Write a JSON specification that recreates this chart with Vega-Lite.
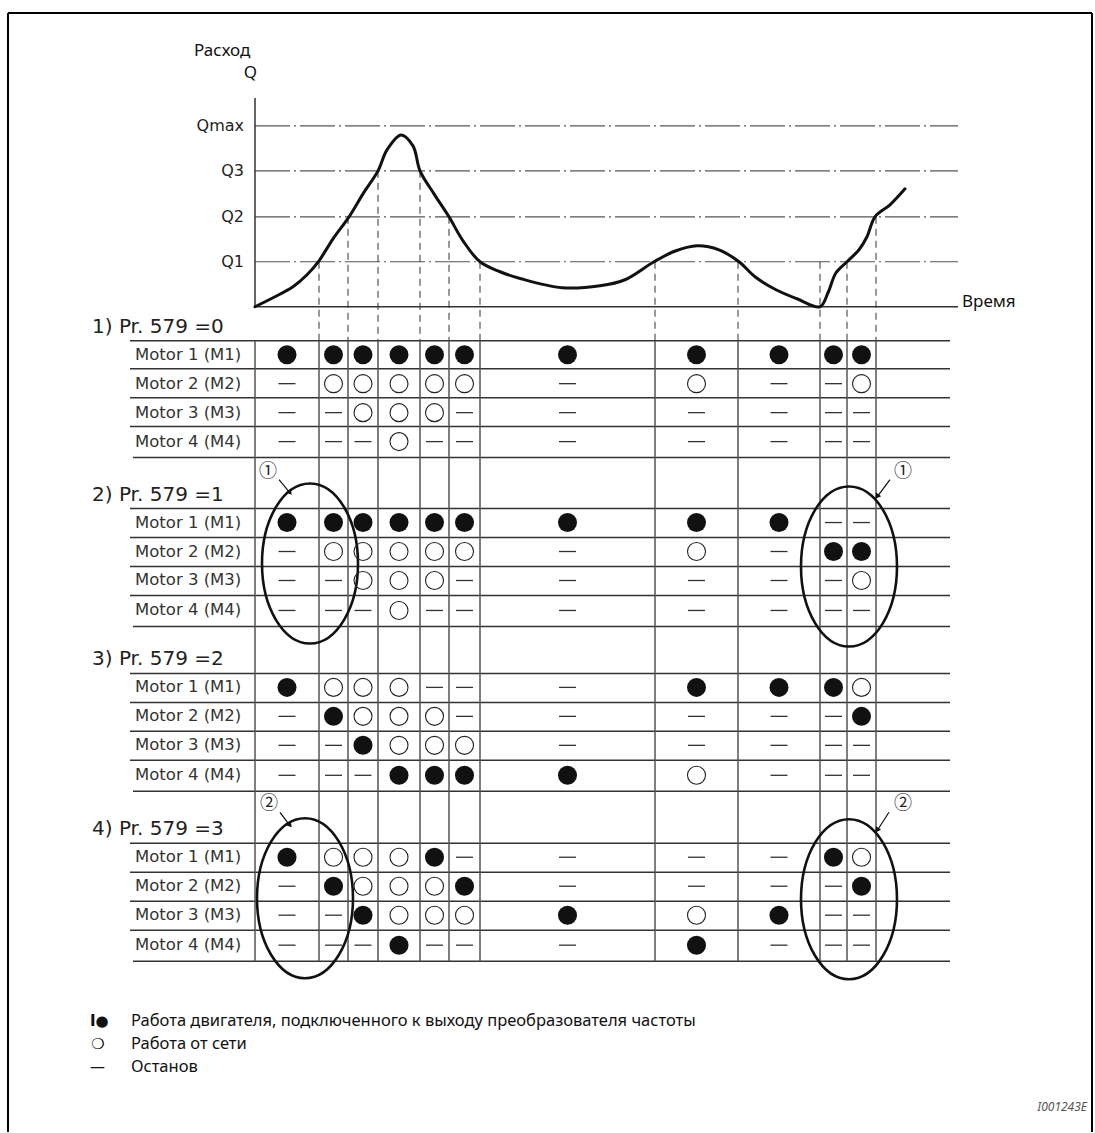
{
  "$schema": "https://vega.github.io/schema/vega-lite/v6.json",
  "width": 1095,
  "height": 1133,
  "autosize": {"type": "fit", "contains": "padding"},
  "padding": 0,
  "background": "white",
  "config": {"view": {"stroke": null}},
  "datasets": {
    "segs": [
      {"k": "frame", "t": 8, "v": 13, "t2": 1092, "v2": 13},
      {"k": "frame", "t": 8, "v": 13, "t2": 8, "v2": 1133},
      {"k": "frame", "t": 1092, "v": 13, "t2": 1092, "v2": 1133},
      {"k": "q", "t": 255, "v": 126, "t2": 958, "v2": 126},
      {"k": "q", "t": 255, "v": 171, "t2": 958, "v2": 171},
      {"k": "q", "t": 255, "v": 217, "t2": 958, "v2": 217},
      {"k": "q", "t": 255, "v": 262, "t2": 958, "v2": 262},
      {"k": "axis", "t": 255, "v": 98, "t2": 255, "v2": 307},
      {"k": "axis", "t": 255, "v": 307, "t2": 958, "v2": 307},
      {"k": "dash", "t": 319, "v": 262, "t2": 319, "v2": 341},
      {"k": "dash", "t": 348, "v": 217, "t2": 348, "v2": 341},
      {"k": "dash", "t": 378, "v": 171, "t2": 378, "v2": 341},
      {"k": "dash", "t": 420, "v": 171, "t2": 420, "v2": 341},
      {"k": "dash", "t": 449, "v": 217, "t2": 449, "v2": 341},
      {"k": "dash", "t": 480, "v": 262, "t2": 480, "v2": 341},
      {"k": "dash", "t": 655, "v": 262, "t2": 655, "v2": 341},
      {"k": "dash", "t": 738, "v": 262, "t2": 738, "v2": 341},
      {"k": "dash", "t": 820, "v": 262, "t2": 820, "v2": 341},
      {"k": "dash", "t": 847, "v": 262, "t2": 847, "v2": 341},
      {"k": "dash", "t": 876, "v": 217, "t2": 876, "v2": 341},
      {"k": "h", "t": 130, "v": 341, "t2": 950, "v2": 341},
      {"k": "h", "t": 130, "v": 369, "t2": 950, "v2": 369},
      {"k": "h", "t": 130, "v": 398, "t2": 950, "v2": 398},
      {"k": "h", "t": 130, "v": 427, "t2": 950, "v2": 427},
      {"k": "h", "t": 133, "v": 458, "t2": 950, "v2": 458},
      {"k": "h", "t": 130, "v": 509, "t2": 950, "v2": 509},
      {"k": "h", "t": 130, "v": 538, "t2": 950, "v2": 538},
      {"k": "h", "t": 130, "v": 567, "t2": 950, "v2": 567},
      {"k": "h", "t": 130, "v": 596, "t2": 950, "v2": 596},
      {"k": "h", "t": 133, "v": 627, "t2": 950, "v2": 627},
      {"k": "h", "t": 130, "v": 674, "t2": 950, "v2": 674},
      {"k": "h", "t": 130, "v": 703, "t2": 950, "v2": 703},
      {"k": "h", "t": 130, "v": 732, "t2": 950, "v2": 732},
      {"k": "h", "t": 130, "v": 761, "t2": 950, "v2": 761},
      {"k": "h", "t": 133, "v": 792, "t2": 950, "v2": 792},
      {"k": "h", "t": 130, "v": 844, "t2": 950, "v2": 844},
      {"k": "h", "t": 130, "v": 873, "t2": 950, "v2": 873},
      {"k": "h", "t": 130, "v": 902, "t2": 950, "v2": 902},
      {"k": "h", "t": 130, "v": 931, "t2": 950, "v2": 931},
      {"k": "h", "t": 133, "v": 962, "t2": 950, "v2": 962},
      {"k": "vl", "t": 255, "v": 341, "t2": 255, "v2": 962},
      {"k": "vl", "t": 319, "v": 341, "t2": 319, "v2": 962},
      {"k": "vl", "t": 348, "v": 341, "t2": 348, "v2": 962},
      {"k": "vl", "t": 378, "v": 341, "t2": 378, "v2": 962},
      {"k": "vl", "t": 420, "v": 341, "t2": 420, "v2": 962},
      {"k": "vl", "t": 449, "v": 341, "t2": 449, "v2": 962},
      {"k": "vl", "t": 480, "v": 341, "t2": 480, "v2": 962},
      {"k": "vl", "t": 655, "v": 341, "t2": 655, "v2": 962},
      {"k": "vl", "t": 738, "v": 341, "t2": 738, "v2": 962},
      {"k": "vl", "t": 820, "v": 341, "t2": 820, "v2": 962},
      {"k": "vl", "t": 847, "v": 341, "t2": 847, "v2": 962},
      {"k": "vl", "t": 876, "v": 341, "t2": 876, "v2": 962},
      {"k": "arrow", "t": 279, "v": 480, "t2": 289, "v2": 492},
      {"k": "arrow", "t": 890, "v": 480, "t2": 878, "v2": 496},
      {"k": "arrow", "t": 280, "v": 813, "t2": 289, "v2": 825},
      {"k": "arrow", "t": 889, "v": 813, "t2": 878, "v2": 830}
    ],
    "heads": [
      {"t": 290, "v": 493, "ang": 140},
      {"t": 877, "v": 497, "ang": 217},
      {"t": 290, "v": 826, "ang": 140},
      {"t": 877, "v": 831, "ang": 214}
    ],
    "ellipses": [
      {"t": 310, "v": 564},
      {"t": 849, "v": 567},
      {"t": 305, "v": 899},
      {"t": 849, "v": 900}
    ],
    "curve": [
      {"t": 255, "v": 307}, {"t": 273, "v": 298}, {"t": 293, "v": 287}, {"t": 307, "v": 275},
      {"t": 319, "v": 261}, {"t": 333, "v": 239}, {"t": 349, "v": 217}, {"t": 363, "v": 194},
      {"t": 378, "v": 171}, {"t": 387, "v": 150}, {"t": 401, "v": 135}, {"t": 413, "v": 146},
      {"t": 420, "v": 171}, {"t": 434, "v": 194}, {"t": 449, "v": 217}, {"t": 463, "v": 241},
      {"t": 480, "v": 262}, {"t": 500, "v": 272}, {"t": 521, "v": 279}, {"t": 562, "v": 288},
      {"t": 600, "v": 286}, {"t": 625, "v": 280}, {"t": 654, "v": 262}, {"t": 676, "v": 251},
      {"t": 697, "v": 246}, {"t": 719, "v": 250}, {"t": 739, "v": 262}, {"t": 755, "v": 277},
      {"t": 776, "v": 290}, {"t": 797, "v": 299}, {"t": 820, "v": 307}, {"t": 828, "v": 293},
      {"t": 836, "v": 273}, {"t": 847, "v": 262}, {"t": 859, "v": 250}, {"t": 867, "v": 237},
      {"t": 875, "v": 217}, {"t": 890, "v": 205}, {"t": 905, "v": 189}
    ],
    "cols": [
      {"col": "A", "t": 287}, {"col": "B", "t": 333.5}, {"col": "C", "t": 363},
      {"col": "D", "t": 399}, {"col": "E", "t": 434.5}, {"col": "F", "t": 464.5},
      {"col": "G", "t": 567.5}, {"col": "H", "t": 696.5}, {"col": "I", "t": 779},
      {"col": "J", "t": 833.5}, {"col": "K", "t": 861.5}
    ],
    "rows": [
      {"row": "1M1", "v": 355, "label": "Motor 1 (M1)"}, {"row": "1M2", "v": 384, "label": "Motor 2 (M2)"},
      {"row": "1M3", "v": 413, "label": "Motor 3 (M3)"}, {"row": "1M4", "v": 442, "label": "Motor 4 (M4)"},
      {"row": "2M1", "v": 523, "label": "Motor 1 (M1)"}, {"row": "2M2", "v": 552, "label": "Motor 2 (M2)"},
      {"row": "2M3", "v": 581, "label": "Motor 3 (M3)"}, {"row": "2M4", "v": 611, "label": "Motor 4 (M4)"},
      {"row": "3M1", "v": 688, "label": "Motor 1 (M1)"}, {"row": "3M2", "v": 717, "label": "Motor 2 (M2)"},
      {"row": "3M3", "v": 746, "label": "Motor 3 (M3)"}, {"row": "3M4", "v": 776, "label": "Motor 4 (M4)"},
      {"row": "4M1", "v": 858, "label": "Motor 1 (M1)"}, {"row": "4M2", "v": 887, "label": "Motor 2 (M2)"},
      {"row": "4M3", "v": 916, "label": "Motor 3 (M3)"}, {"row": "4M4", "v": 946, "label": "Motor 4 (M4)"}
    ],
    "cells": [
      {"r": "1M1", "c": "A", "s": "F"}, {"r": "1M1", "c": "B", "s": "F"}, {"r": "1M1", "c": "C", "s": "F"}, {"r": "1M1", "c": "D", "s": "F"}, {"r": "1M1", "c": "E", "s": "F"}, {"r": "1M1", "c": "F", "s": "F"}, {"r": "1M1", "c": "G", "s": "F"}, {"r": "1M1", "c": "H", "s": "F"}, {"r": "1M1", "c": "I", "s": "F"}, {"r": "1M1", "c": "J", "s": "F"}, {"r": "1M1", "c": "K", "s": "F"},
      {"r": "1M2", "c": "A", "s": "S"}, {"r": "1M2", "c": "B", "s": "O"}, {"r": "1M2", "c": "C", "s": "O"}, {"r": "1M2", "c": "D", "s": "O"}, {"r": "1M2", "c": "E", "s": "O"}, {"r": "1M2", "c": "F", "s": "O"}, {"r": "1M2", "c": "G", "s": "S"}, {"r": "1M2", "c": "H", "s": "O"}, {"r": "1M2", "c": "I", "s": "S"}, {"r": "1M2", "c": "J", "s": "S"}, {"r": "1M2", "c": "K", "s": "O"},
      {"r": "1M3", "c": "A", "s": "S"}, {"r": "1M3", "c": "B", "s": "S"}, {"r": "1M3", "c": "C", "s": "O"}, {"r": "1M3", "c": "D", "s": "O"}, {"r": "1M3", "c": "E", "s": "O"}, {"r": "1M3", "c": "F", "s": "S"}, {"r": "1M3", "c": "G", "s": "S"}, {"r": "1M3", "c": "H", "s": "S"}, {"r": "1M3", "c": "I", "s": "S"}, {"r": "1M3", "c": "J", "s": "S"}, {"r": "1M3", "c": "K", "s": "S"},
      {"r": "1M4", "c": "A", "s": "S"}, {"r": "1M4", "c": "B", "s": "S"}, {"r": "1M4", "c": "C", "s": "S"}, {"r": "1M4", "c": "D", "s": "O"}, {"r": "1M4", "c": "E", "s": "S"}, {"r": "1M4", "c": "F", "s": "S"}, {"r": "1M4", "c": "G", "s": "S"}, {"r": "1M4", "c": "H", "s": "S"}, {"r": "1M4", "c": "I", "s": "S"}, {"r": "1M4", "c": "J", "s": "S"}, {"r": "1M4", "c": "K", "s": "S"},
      {"r": "2M1", "c": "A", "s": "F"}, {"r": "2M1", "c": "B", "s": "F"}, {"r": "2M1", "c": "C", "s": "F"}, {"r": "2M1", "c": "D", "s": "F"}, {"r": "2M1", "c": "E", "s": "F"}, {"r": "2M1", "c": "F", "s": "F"}, {"r": "2M1", "c": "G", "s": "F"}, {"r": "2M1", "c": "H", "s": "F"}, {"r": "2M1", "c": "I", "s": "F"}, {"r": "2M1", "c": "J", "s": "S"}, {"r": "2M1", "c": "K", "s": "S"},
      {"r": "2M2", "c": "A", "s": "S"}, {"r": "2M2", "c": "B", "s": "O"}, {"r": "2M2", "c": "C", "s": "O"}, {"r": "2M2", "c": "D", "s": "O"}, {"r": "2M2", "c": "E", "s": "O"}, {"r": "2M2", "c": "F", "s": "O"}, {"r": "2M2", "c": "G", "s": "S"}, {"r": "2M2", "c": "H", "s": "O"}, {"r": "2M2", "c": "I", "s": "S"}, {"r": "2M2", "c": "J", "s": "F"}, {"r": "2M2", "c": "K", "s": "F"},
      {"r": "2M3", "c": "A", "s": "S"}, {"r": "2M3", "c": "B", "s": "S"}, {"r": "2M3", "c": "C", "s": "O"}, {"r": "2M3", "c": "D", "s": "O"}, {"r": "2M3", "c": "E", "s": "O"}, {"r": "2M3", "c": "F", "s": "S"}, {"r": "2M3", "c": "G", "s": "S"}, {"r": "2M3", "c": "H", "s": "S"}, {"r": "2M3", "c": "I", "s": "S"}, {"r": "2M3", "c": "J", "s": "S"}, {"r": "2M3", "c": "K", "s": "O"},
      {"r": "2M4", "c": "A", "s": "S"}, {"r": "2M4", "c": "B", "s": "S"}, {"r": "2M4", "c": "C", "s": "S"}, {"r": "2M4", "c": "D", "s": "O"}, {"r": "2M4", "c": "E", "s": "S"}, {"r": "2M4", "c": "F", "s": "S"}, {"r": "2M4", "c": "G", "s": "S"}, {"r": "2M4", "c": "H", "s": "S"}, {"r": "2M4", "c": "I", "s": "S"}, {"r": "2M4", "c": "J", "s": "S"}, {"r": "2M4", "c": "K", "s": "S"},
      {"r": "3M1", "c": "A", "s": "F"}, {"r": "3M1", "c": "B", "s": "O"}, {"r": "3M1", "c": "C", "s": "O"}, {"r": "3M1", "c": "D", "s": "O"}, {"r": "3M1", "c": "E", "s": "S"}, {"r": "3M1", "c": "F", "s": "S"}, {"r": "3M1", "c": "G", "s": "S"}, {"r": "3M1", "c": "H", "s": "F"}, {"r": "3M1", "c": "I", "s": "F"}, {"r": "3M1", "c": "J", "s": "F"}, {"r": "3M1", "c": "K", "s": "O"},
      {"r": "3M2", "c": "A", "s": "S"}, {"r": "3M2", "c": "B", "s": "F"}, {"r": "3M2", "c": "C", "s": "O"}, {"r": "3M2", "c": "D", "s": "O"}, {"r": "3M2", "c": "E", "s": "O"}, {"r": "3M2", "c": "F", "s": "S"}, {"r": "3M2", "c": "G", "s": "S"}, {"r": "3M2", "c": "H", "s": "S"}, {"r": "3M2", "c": "I", "s": "S"}, {"r": "3M2", "c": "J", "s": "S"}, {"r": "3M2", "c": "K", "s": "F"},
      {"r": "3M3", "c": "A", "s": "S"}, {"r": "3M3", "c": "B", "s": "S"}, {"r": "3M3", "c": "C", "s": "F"}, {"r": "3M3", "c": "D", "s": "O"}, {"r": "3M3", "c": "E", "s": "O"}, {"r": "3M3", "c": "F", "s": "O"}, {"r": "3M3", "c": "G", "s": "S"}, {"r": "3M3", "c": "H", "s": "S"}, {"r": "3M3", "c": "I", "s": "S"}, {"r": "3M3", "c": "J", "s": "S"}, {"r": "3M3", "c": "K", "s": "S"},
      {"r": "3M4", "c": "A", "s": "S"}, {"r": "3M4", "c": "B", "s": "S"}, {"r": "3M4", "c": "C", "s": "S"}, {"r": "3M4", "c": "D", "s": "F"}, {"r": "3M4", "c": "E", "s": "F"}, {"r": "3M4", "c": "F", "s": "F"}, {"r": "3M4", "c": "G", "s": "F"}, {"r": "3M4", "c": "H", "s": "O"}, {"r": "3M4", "c": "I", "s": "S"}, {"r": "3M4", "c": "J", "s": "S"}, {"r": "3M4", "c": "K", "s": "S"},
      {"r": "4M1", "c": "A", "s": "F"}, {"r": "4M1", "c": "B", "s": "O"}, {"r": "4M1", "c": "C", "s": "O"}, {"r": "4M1", "c": "D", "s": "O"}, {"r": "4M1", "c": "E", "s": "F"}, {"r": "4M1", "c": "F", "s": "S"}, {"r": "4M1", "c": "G", "s": "S"}, {"r": "4M1", "c": "H", "s": "S"}, {"r": "4M1", "c": "I", "s": "S"}, {"r": "4M1", "c": "J", "s": "F"}, {"r": "4M1", "c": "K", "s": "O"},
      {"r": "4M2", "c": "A", "s": "S"}, {"r": "4M2", "c": "B", "s": "F"}, {"r": "4M2", "c": "C", "s": "O"}, {"r": "4M2", "c": "D", "s": "O"}, {"r": "4M2", "c": "E", "s": "O"}, {"r": "4M2", "c": "F", "s": "F"}, {"r": "4M2", "c": "G", "s": "S"}, {"r": "4M2", "c": "H", "s": "S"}, {"r": "4M2", "c": "I", "s": "S"}, {"r": "4M2", "c": "J", "s": "S"}, {"r": "4M2", "c": "K", "s": "F"},
      {"r": "4M3", "c": "A", "s": "S"}, {"r": "4M3", "c": "B", "s": "S"}, {"r": "4M3", "c": "C", "s": "F"}, {"r": "4M3", "c": "D", "s": "O"}, {"r": "4M3", "c": "E", "s": "O"}, {"r": "4M3", "c": "F", "s": "O"}, {"r": "4M3", "c": "G", "s": "F"}, {"r": "4M3", "c": "H", "s": "O"}, {"r": "4M3", "c": "I", "s": "F"}, {"r": "4M3", "c": "J", "s": "S"}, {"r": "4M3", "c": "K", "s": "S"},
      {"r": "4M4", "c": "A", "s": "S"}, {"r": "4M4", "c": "B", "s": "S"}, {"r": "4M4", "c": "C", "s": "S"}, {"r": "4M4", "c": "D", "s": "F"}, {"r": "4M4", "c": "E", "s": "S"}, {"r": "4M4", "c": "F", "s": "S"}, {"r": "4M4", "c": "G", "s": "S"}, {"r": "4M4", "c": "H", "s": "F"}, {"r": "4M4", "c": "I", "s": "S"}, {"r": "4M4", "c": "J", "s": "S"}, {"r": "4M4", "c": "K", "s": "S"}
    ],
    "texts": [
      {"k": "head", "t": 92, "v": 327, "txt": "1) Pr. 579 =0"},
      {"k": "head", "t": 92, "v": 495, "txt": "2) Pr. 579 =1"},
      {"k": "head", "t": 92, "v": 660, "txt": "3) Pr. 579 =2"},
      {"k": "head", "t": 92, "v": 830, "txt": "4) Pr. 579 =3"},
      {"k": "q", "t": 244, "v": 126, "txt": "Qmax"},
      {"k": "q", "t": 244, "v": 171, "txt": "Q3"},
      {"k": "q", "t": 244, "v": 217, "txt": "Q2"},
      {"k": "q", "t": 244, "v": 262, "txt": "Q1"},
      {"k": "ttl", "t": 194, "v": 51, "txt": "Расход"},
      {"k": "ttl", "t": 962, "v": 302, "txt": "Время"},
      {"k": "ttlr", "t": 257, "v": 73, "txt": "Q"},
      {"k": "circ", "t": 268, "v": 472, "txt": "①"},
      {"k": "circ", "t": 903, "v": 472, "txt": "①"},
      {"k": "circ", "t": 269, "v": 805, "txt": "②"},
      {"k": "circ", "t": 903, "v": 805, "txt": "②"},
      {"k": "legsymb", "t": 90, "v": 1022, "txt": "I●"},
      {"k": "legsym", "t": 91, "v": 1045, "txt": "❍"},
      {"k": "legsym", "t": 90, "v": 1068, "txt": "—"},
      {"k": "leg", "t": 131, "v": 1022, "txt": "Работа двигателя, подключенного к выходу преобразователя частоты"},
      {"k": "leg", "t": 131, "v": 1045, "txt": "Работа от сети"},
      {"k": "leg", "t": 131, "v": 1068, "txt": "Останов"},
      {"k": "code", "t": 1087, "v": 1108, "txt": "I001243E"}
    ]
  },
  "encoding": {
    "x": {"field": "t", "type": "quantitative", "scale": {"domain": [0, 1095], "nice": false, "zero": false}, "axis": null},
    "y": {"field": "v", "type": "quantitative", "scale": {"domain": [0, 1133], "nice": false, "zero": false, "reverse": true}, "axis": null}
  },
  "layer": [
    {
      "data": {"name": "segs"},
      "transform": [{"filter": "datum.k === 'frame'"}],
      "mark": {"type": "rule", "color": "#000", "strokeWidth": 2},
      "encoding": {"x2": {"field": "t2"}, "y2": {"field": "v2"}}
    },
    {
      "data": {"name": "segs"},
      "transform": [{"filter": "datum.k === 'q'"}],
      "mark": {"type": "rule", "color": "#555", "strokeWidth": 1.2, "strokeDash": [35, 4, 2, 4]},
      "encoding": {"x2": {"field": "t2"}, "y2": {"field": "v2"}}
    },
    {
      "data": {"name": "segs"},
      "transform": [{"filter": "datum.k === 'axis'"}],
      "mark": {"type": "rule", "color": "#333", "strokeWidth": 1.5},
      "encoding": {"x2": {"field": "t2"}, "y2": {"field": "v2"}}
    },
    {
      "data": {"name": "segs"},
      "transform": [{"filter": "datum.k === 'dash'"}],
      "mark": {"type": "rule", "color": "#333", "strokeWidth": 1, "strokeDash": [7, 5]},
      "encoding": {"x2": {"field": "t2"}, "y2": {"field": "v2"}}
    },
    {
      "data": {"name": "segs"},
      "transform": [{"filter": "datum.k === 'h'"}],
      "mark": {"type": "rule", "color": "#333", "strokeWidth": 1.5},
      "encoding": {"x2": {"field": "t2"}, "y2": {"field": "v2"}}
    },
    {
      "data": {"name": "segs"},
      "transform": [{"filter": "datum.k === 'vl'"}],
      "mark": {"type": "rule", "color": "#555", "strokeWidth": 1.5},
      "encoding": {"x2": {"field": "t2"}, "y2": {"field": "v2"}}
    },
    {
      "data": {"name": "curve"},
      "mark": {"type": "line", "color": "#111", "strokeWidth": 3, "interpolate": "catmull-rom", "strokeCap": "round"},
      "encoding": {"order": {"field": "t", "type": "quantitative"}}
    },
    {
      "data": {"name": "ellipses"},
      "mark": {"type": "point", "shape": "M0,-1C0.331,-1,0.6,-0.552,0.6,0C0.6,0.552,0.331,1,0,1C-0.331,1,-0.6,0.552,-0.6,0C-0.6,-0.552,-0.331,-1,0,-1Z", "size": 25600, "filled": false, "color": "#111", "strokeWidth": 2.6, "opacity": 1}
    },
    {
      "data": {"name": "segs"},
      "transform": [{"filter": "datum.k === 'arrow'"}],
      "mark": {"type": "rule", "color": "#111", "strokeWidth": 1.2},
      "encoding": {"x2": {"field": "t2"}, "y2": {"field": "v2"}}
    },
    {
      "data": {"name": "heads"},
      "mark": {"type": "point", "shape": "triangle-up", "size": 40, "filled": true, "color": "#111", "opacity": 1},
      "encoding": {"angle": {"field": "ang", "type": "quantitative", "scale": null}}
    },
    {
      "data": {"name": "cells"},
      "transform": [
        {"lookup": "c", "from": {"data": {"name": "cols"}, "key": "col", "fields": ["t"]}},
        {"lookup": "r", "from": {"data": {"name": "rows"}, "key": "row", "fields": ["v"]}},
        {"filter": "datum.s === 'F'"}
      ],
      "mark": {"type": "point", "shape": "circle", "size": 361, "filled": true, "color": "#111", "opacity": 1}
    },
    {
      "data": {"name": "cells"},
      "transform": [
        {"lookup": "c", "from": {"data": {"name": "cols"}, "key": "col", "fields": ["t"]}},
        {"lookup": "r", "from": {"data": {"name": "rows"}, "key": "row", "fields": ["v"]}},
        {"filter": "datum.s === 'O'"}
      ],
      "mark": {"type": "point", "shape": "circle", "size": 324, "filled": false, "color": "#222", "strokeWidth": 1.1, "opacity": 1}
    },
    {
      "data": {"name": "cells"},
      "transform": [
        {"lookup": "c", "from": {"data": {"name": "cols"}, "key": "col", "fields": ["t"]}},
        {"lookup": "r", "from": {"data": {"name": "rows"}, "key": "row", "fields": ["v"]}},
        {"filter": "datum.s === 'S'"}
      ],
      "mark": {"type": "point", "shape": "stroke", "size": 289, "filled": false, "color": "#333", "strokeWidth": 1.3, "opacity": 1}
    },
    {
      "data": {"name": "rows"},
      "transform": [{"lookup": "row", "from": {"data": {"name": "cols"}, "key": "col", "fields": ["t"]}, "default": 135}],
      "mark": {"type": "text", "align": "left", "baseline": "middle", "font": "DejaVu Sans", "fontSize": 16.5, "color": "#333"},
      "encoding": {"text": {"field": "label"}}
    },
    {
      "data": {"name": "texts"},
      "transform": [{"filter": "datum.k === 'head'"}],
      "mark": {"type": "text", "align": "left", "baseline": "middle", "font": "DejaVu Sans", "fontSize": 20, "color": "#222"},
      "encoding": {"text": {"field": "txt"}}
    },
    {
      "data": {"name": "texts"},
      "transform": [{"filter": "datum.k === 'q'"}],
      "mark": {"type": "text", "align": "right", "baseline": "middle", "font": "DejaVu Sans", "fontSize": 16, "color": "#222"},
      "encoding": {"text": {"field": "txt"}}
    },
    {
      "data": {"name": "texts"},
      "transform": [{"filter": "datum.k === 'ttl'"}],
      "mark": {"type": "text", "align": "left", "baseline": "middle", "font": "Noto Sans", "fontSize": 17, "color": "#111"},
      "encoding": {"text": {"field": "txt"}}
    },
    {
      "data": {"name": "texts"},
      "transform": [{"filter": "datum.k === 'ttlr'"}],
      "mark": {"type": "text", "align": "right", "baseline": "middle", "font": "Noto Sans", "fontSize": 17, "color": "#111"},
      "encoding": {"text": {"field": "txt"}}
    },
    {
      "data": {"name": "texts"},
      "transform": [{"filter": "datum.k === 'circ'"}],
      "mark": {"type": "text", "align": "center", "baseline": "middle", "font": "Noto Sans CJK JP", "fontSize": 18, "color": "#222"},
      "encoding": {"text": {"field": "txt"}}
    },
    {
      "data": {"name": "texts"},
      "transform": [{"filter": "datum.k === 'legsymb'"}],
      "mark": {"type": "text", "align": "left", "baseline": "middle", "font": "DejaVu Sans", "fontSize": 15, "fontWeight": "bold", "color": "#111"},
      "encoding": {"text": {"field": "txt"}}
    },
    {
      "data": {"name": "texts"},
      "transform": [{"filter": "datum.k === 'legsym'"}],
      "mark": {"type": "text", "align": "left", "baseline": "middle", "font": "DejaVu Sans", "fontSize": 15, "color": "#111"},
      "encoding": {"text": {"field": "txt"}}
    },
    {
      "data": {"name": "texts"},
      "transform": [{"filter": "datum.k === 'leg'"}],
      "mark": {"type": "text", "align": "left", "baseline": "middle", "font": "Noto Sans", "fontSize": 16.5, "color": "#111"},
      "encoding": {"text": {"field": "txt"}}
    },
    {
      "data": {"name": "texts"},
      "transform": [{"filter": "datum.k === 'code'"}],
      "mark": {"type": "text", "align": "right", "baseline": "middle", "font": "Noto Sans", "fontSize": 12, "fontStyle": "italic", "color": "#555"},
      "encoding": {"text": {"field": "txt"}}
    }
  ]
}
